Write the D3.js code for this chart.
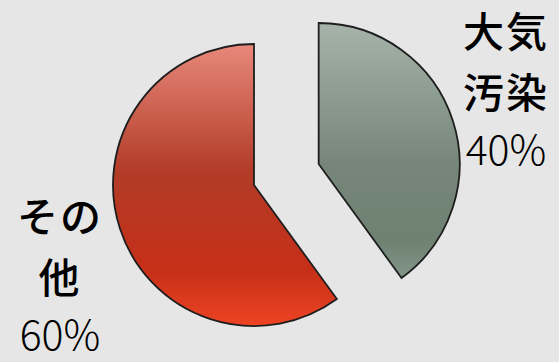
<!DOCTYPE html>
<html>
<head>
<meta charset="utf-8">
<script src="https://cdn.jsdelivr.net/npm/d3@7"></script>
<style>
  html, body { margin: 0; padding: 0; background: #e6e6e6; }
  svg { display: block; }
</style>
</head>
<body>
<div id="chart"></div>
<script>
// --- Data ---
const categories = ["大気汚染", "その他"];
const values = [40, 60];
const labelLines = [["大気", "汚染"], ["その", "他"]];
const pctLabels = ["40%", "60%"];

// --- Dimensions ---
const width = 559, height = 362;
const cx = 254, cy = 185, radius = 141;
const explode = [68, 0];

const svg = d3.select("#chart").append("svg")
  .attr("width", width)
  .attr("height", height);

svg.append("rect").attr("width", width).attr("height", height).attr("fill", "#e6e6e6");

// --- Gradients ---
const defs = svg.append("defs");
const grads = [
  [["0%", "#a6b3aa"], ["55%", "#76877a"], ["85%", "#6f8171"], ["100%", "#849689"]],
  [["0%", "#e8887b"], ["45%", "#b23c28"], ["80%", "#c62f18"], ["100%", "#ee4424"]]
];
grads.forEach((stops, i) => {
  const g = defs.append("linearGradient")
    .attr("id", "grad" + i)
    .attr("x1", 0).attr("y1", 0).attr("x2", 0).attr("y2", 1);
  stops.forEach(s => g.append("stop").attr("offset", s[0]).attr("stop-color", s[1]));
});

// --- Pie ---
const pie = d3.pie().sort(null).value(d => d);
const arcs = pie(values);
const arc = d3.arc().innerRadius(0).outerRadius(radius);

const g = svg.append("g").attr("transform", `translate(${cx},${cy})`);

g.selectAll("path")
  .data(arcs)
  .join("path")
  .attr("transform", (d, i) => {
    const a = (d.startAngle + d.endAngle) / 2;
    return `translate(${Math.sin(a) * explode[i]},${-Math.cos(a) * explode[i]})`;
  })
  .attr("d", arc)
  .attr("fill", (d, i) => `url(#grad${i})`)
  .attr("stroke", "#1e1e1e")
  .attr("stroke-width", 1.8)
  .attr("stroke-linejoin", "miter");

// --- Labels ---
const labelPos = [{ x: 506, y: 47 }, { x: 60, y: 232 }];
const lineGap = 61;

labelPos.forEach((p, i) => {
  const t = svg.append("g");
  labelLines[i].forEach((line, j) => {
    t.append("text")
      .attr("x", p.x)
      .attr("y", p.y + j * lineGap)
      .attr("text-anchor", "middle")
      .style("font-family", "'Noto Sans CJK JP', sans-serif")
      .style("font-weight", 500)
      .style("font-size", "41px")
      .style("letter-spacing", "2px")
      .style("fill", "#000")
      .text(line);
  });
  t.append("text")
    .attr("x", p.x)
    .attr("y", p.y + 2 * lineGap - 4)
    .attr("text-anchor", "middle")
    .style("font-family", "'Noto Sans CJK JP', sans-serif")
    .style("font-weight", 300)
    .style("font-size", "41px")
    .style("fill", "#000")
    .text(pctLabels[i]);
});
</script>
</body>
</html>
